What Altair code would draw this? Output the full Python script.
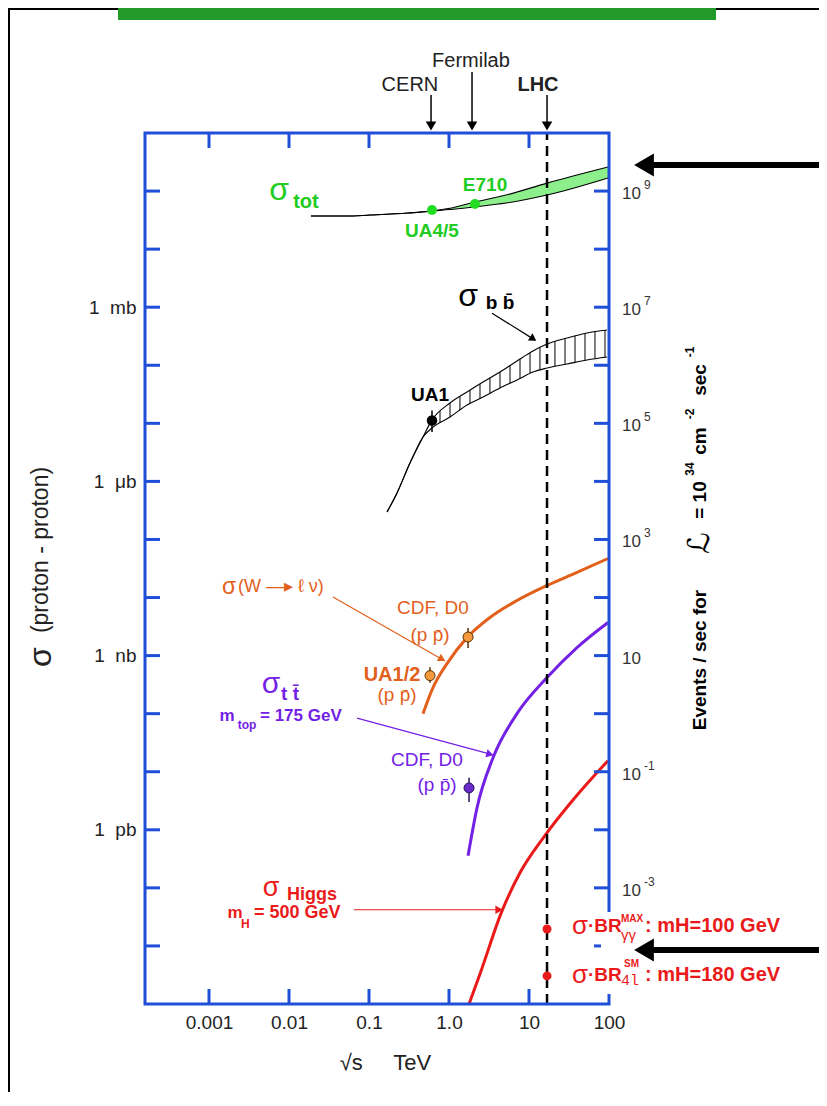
import altair as alt
import pandas as pd

# ---------------- data ----------------
# sigma_tot band (mb) vs sqrt(s) (TeV)
E_tot = [0.0188, 0.0516, 0.103, 0.307, 0.613, 1.03, 2.11, 5.16, 16.8, 97.2]
tot_lo = [37.1, 37.1, 38.6, 41.8, 45.5, 48.0, 53.5, 62.1, 85.3, 168]
tot_hi = [37.1, 37.1, 38.6, 41.8, 45.5, 50.5, 64.6, 85.3, 137, 259]
tot_pts_E = [0.613, 2.11]
tot_pts_s = [47.2, 59.8]

# sigma_bb band
E_bb = [0.168, 0.224, 0.325, 0.473, 0.613, 1.03, 1.68, 2.66, 4.34, 7.08, 11.2, 16.8, 29.9, 53.1, 94.4]
bb_lo = [2.97e-4, 6.32e-4, 2.07e-3, 5.82e-3, 8.34e-3, 0.01285, 0.0207, 0.0284, 0.0406, 0.0558,
         0.0766, 0.0897, 0.1052, 0.1233, 0.1387]
bb_hi = [2.97e-4, 6.32e-4, 2.07e-3, 5.82e-3, 0.01146, 0.0224, 0.0347, 0.0515, 0.0766, 0.1186,
         0.176, 0.232, 0.295, 0.360, 0.405]
hatch_E = [0.772, 1.03, 1.37, 1.83, 2.44, 3.25, 4.34, 5.79, 7.72, 10.3, 13.7,
           21.1, 28.2, 37.6, 50.1, 66.8, 89.1]
ua1_E, ua1_s, ua1_lo, ua1_hi = [0.613], [0.0112], [0.0071], [0.0167]

# W -> l nu
E_W = [0.473, 0.631, 0.944, 1.68, 3.25, 7.08, 16.8, 39.8, 97.2]
s_W = [1.0e-7, 2.81e-7, 7.28e-7, 2.04e-6, 4.52e-6, 8.87e-6, 1.61e-5, 2.70e-5, 4.70e-5]
W_pts_E = [0.579, 1.73]
W_pts_s = [4.52e-7, 2.09e-6]
W_pts_lo = [3.4e-7, 1.35e-6]
W_pts_hi = [6.3e-7, 2.99e-6]

# t tbar
E_tt = [1.73, 2.24, 3.55, 7.08, 16.8, 39.8, 97.2]
s_tt = [3.56e-10, 2.39e-9, 1.74e-8, 1.0e-7, 4.18e-7, 1.37e-6, 3.71e-6]
tt_pts_E, tt_pts_s, tt_pts_lo, tt_pts_hi = [1.78], [5.26e-9], [3.0e-9], [7.9e-9]

# Higgs (500 GeV)
E_H = [1.78, 2.44, 4.60, 7.72, 15.4, 36.5, 97.2]
s_H = [1.0e-12, 3.29e-12, 4.01e-11, 1.82e-10, 7.57e-10, 3.42e-9, 1.55e-8]

# sigma*BR points at LHC
E_LHC = 16.8
BR_s = [1.96e-11, 3.04e-12]

# machines
E_CERN, E_FNAL = 0.596, 1.94

# ticks / labels
xtick_vals = [0.001, 0.01, 0.1, 1, 10]
xlab_vals = [0.001, 0.01, 0.1, 1, 10, 100]
xlab_text = ['0.001', '0.01', '0.1', '1.0', '10', '100']
ytick_vals = [1e2, 1e1, 1, 1e-1, 1e-2, 1e-3, 1e-4, 1e-5, 1e-6, 1e-7, 1e-8, 1e-9, 1e-10, 1e-11]
ylab_vals = [1e-9, 1e-6, 1e-3, 1]
ylab_text = ['1\u00a0\u00a0pb', '1\u00a0\u00a0nb', '1\u00a0\u00a0μb', '1\u00a0\u00a0mb']
rlab_vals = [1e2, 1, 1e-2, 1e-4, 1e-6, 1e-8, 1e-10]
rlab_base = ['10', '10', '10', '10', '10', '10', '10']
rlab_exp = ['9', '7', '5', '3', '', '-1', '-3']

# ---------------- styling ----------------
FONT = "Liberation Sans, Arial, DejaVu Sans"
BLUE = "#1f4fd8"
DARK = "#222222"
GREEN_T = "#22cc22"
GREEN_F = "#8cef8c"
GREEN_P = "#22dd22"
ORANGE = "#e2601c"
ORANGE_P = "#f39a3c"
PURPLE = "#7421e6"
PURPLE_P = "#6a2bc8"
RED = "#ea1a1a"
W, H = 464, 871
NB = "\u00a0"

xs = alt.Scale(type="log", domain=[10 ** -3.8, 100], nice=False)
ys = alt.Scale(type="log", domain=[1e-12, 1e3], nice=False)

x_expr = "[" + ",".join("'%s'" % s for s in xlab_text) + "][round(log(datum.value)/LN10)+3]"
y_expr = "[" + ",".join("'%s'" % s for s in ylab_text) + "][round(log(datum.value)/LN10)/3+3]"

XAXIS = alt.Axis(values=xlab_vals, labelExpr=x_expr, ticks=False, tickSize=0, domain=False,
                 grid=False, labelFont=FONT, labelFontSize=19, labelColor=DARK, labelPadding=9,
                 labelFlush=False, labelOverlap=False, title="√s" + NB * 5 + "TeV", titleFont=FONT,
                 titleFontSize=22, titleFontWeight="normal", titleColor=DARK, titleX=240,
                 titleY=58, titleAlign="center", titleBaseline="middle")
YAXIS = alt.Axis(values=ylab_vals, labelExpr=y_expr, ticks=False, tickSize=0, domain=False,
                 grid=False, labelFont=FONT, labelFontSize=19, labelColor=DARK, labelPadding=9,
                 labelOverlap=False, title=None)


def X(f):
    return alt.X(f, type="quantitative", scale=xs, axis=XAXIS)


def Y(f):
    return alt.Y(f, type="quantitative", scale=ys, axis=YAXIS)


def df(**cols):
    return pd.DataFrame(cols)


ONE = pd.DataFrame({"d": [0]})
layers = []

# ---- sigma_bb hatch (vertical rules) masked by white areas ----
layers.append(alt.Chart(df(E=hatch_E)).mark_rule(color="black", strokeWidth=1).encode(
    x=X("E"), y=alt.datum(2e-3), y2=alt.datum(0.6)))
bbdf = df(E=E_bb, lo=bb_lo, hi=bb_hi)
layers.append(alt.Chart(bbdf).mark_area(color="white", opacity=1, interpolate="monotone").encode(
    x=X("E"), y=Y("hi"), y2=alt.datum(1.0)))
layers.append(alt.Chart(bbdf).mark_area(color="white", opacity=1, interpolate="monotone").encode(
    x=X("E"), y=Y("lo"), y2=alt.datum(1e-3)))
layers.append(alt.Chart(bbdf).mark_line(color="black", strokeWidth=1.1, interpolate="monotone").encode(
    x=X("E"), y=Y("hi")))
layers.append(alt.Chart(bbdf).mark_line(color="black", strokeWidth=1.1, interpolate="monotone").encode(
    x=X("E"), y=Y("lo")))

# ---- sigma_tot band ----
totdf = df(E=E_tot, lo=tot_lo, hi=tot_hi)
layers.append(alt.Chart(totdf).mark_area(color=GREEN_F, opacity=1, interpolate="monotone").encode(
    x=X("E"), y=Y("lo"), y2="hi"))
layers.append(alt.Chart(totdf).mark_line(color="black", strokeWidth=1.1, interpolate="monotone").encode(
    x=X("E"), y=Y("lo")))
layers.append(alt.Chart(totdf).mark_line(color="black", strokeWidth=1.1, interpolate="monotone").encode(
    x=X("E"), y=Y("hi")))

# ---- curves ----
layers.append(alt.Chart(df(E=E_W, s=s_W)).mark_line(color=ORANGE, strokeWidth=3, interpolate="monotone").encode(
    x=X("E"), y=Y("s")))
layers.append(alt.Chart(df(E=E_tt, s=s_tt)).mark_line(color=PURPLE, strokeWidth=3, interpolate="monotone").encode(
    x=X("E"), y=Y("s")))
layers.append(alt.Chart(df(E=E_H, s=s_H)).mark_line(color=RED, strokeWidth=3, interpolate="monotone").encode(
    x=X("E"), y=Y("s")))

# ---- LHC dashed line ----
layers.append(alt.Chart(df(E=[E_LHC])).mark_rule(color="black", strokeWidth=2.5, strokeDash=[10, 6]).encode(
    x=X("E"), y=alt.datum(1e-12), y2=alt.datum(1e3)))

# ---- error bars & points ----
errdf = df(E=ua1_E + W_pts_E + tt_pts_E, lo=ua1_lo + W_pts_lo + tt_pts_lo, hi=ua1_hi + W_pts_hi + tt_pts_hi,
           c=["black", "#5a3000", "#5a3000", "#2a1060"])
layers.append(alt.Chart(errdf).mark_rule(strokeWidth=1.5).encode(
    x=X("E"), y=Y("lo"), y2="hi", color=alt.Color("c:N", scale=None)))
layers.append(alt.Chart(df(E=tot_pts_E, s=tot_pts_s)).mark_circle(color=GREEN_P, size=100, opacity=1).encode(
    x=X("E"), y=Y("s")))
layers.append(alt.Chart(df(E=ua1_E, s=ua1_s)).mark_point(shape="circle", filled=True, color="black", size=110, opacity=1).encode(
    x=X("E"), y=Y("s")))
layers.append(alt.Chart(df(E=W_pts_E, s=W_pts_s)).mark_point(shape="circle", filled=True, fill=ORANGE_P, stroke="#5a3000",
                                                              strokeWidth=1, size=100, opacity=1).encode(x=X("E"), y=Y("s")))
layers.append(alt.Chart(df(E=tt_pts_E, s=tt_pts_s)).mark_point(shape="circle", filled=True, fill=PURPLE_P, stroke="#2a1060",
                                                                strokeWidth=1, size=100, opacity=1).encode(x=X("E"), y=Y("s")))
layers.append(alt.Chart(df(E=[E_LHC, E_LHC], s=BR_s)).mark_circle(color=RED, size=80, opacity=1).encode(
    x=X("E"), y=Y("s")))


# ---- annotation arrows (data coordinates) ----
def arrow(E0, s0, E1, s1, Eh, sh, shape, angle, color, width=1.2, head=70):
    line = alt.Chart(df(E=[E0], s=[s0], E2=[E1], s2=[s1])).mark_rule(color=color, strokeWidth=width).encode(
        x=X("E"), y=Y("s"), x2="E2", y2="s2")
    hd = alt.Chart(df(E=[Eh], s=[sh])).mark_point(shape=shape, filled=True, color=color, size=head,
                                                  angle=angle, opacity=1).encode(x=X("E"), y=Y("s"))
    return [line, hd]


layers += arrow(3.45, 0.79, 11.9, 0.271, 11.3, 0.285, "triangle-right", 33, "black")
layers += arrow(0.0355, 1.02e-5, 0.891, 8.05e-7, 0.818, 8.7e-7, "triangle-right", 30, ORANGE)
layers += arrow(0.0708, 8.4e-8, 3.65, 1.93e-8, 3.25, 2.0e-8, "triangle-right", 15, PURPLE)
layers += arrow(0.0649, 4.2e-11, 4.73, 4.2e-11, 4.22, 4.2e-11, "triangle-right", 0, RED)
for e0, s0 in [(E_CERN, 4510), (E_FNAL, 11220), (E_LHC, 4510)]:
    layers += arrow(e0, s0, e0, 1319, e0, 1319, "triangle-down", 0, "black", width=1.5, head=110)


# ---- text annotations ----
def texts(rows, weight="normal", align="center", font=FONT):
    d = pd.DataFrame(rows, columns=["E", "s", "t", "c", "z"])
    return alt.Chart(d).mark_text(font=font, fontWeight=weight, align=align, baseline="middle").encode(
        x=X("E"), y=Y("s"), text="t:N", color=alt.Color("c:N", scale=None), size=alt.Size("z:Q", scale=None))


normal_center = [
    (0.0075, 104, "σ", GREEN_T, 32),
    (1.73, 1.56, "σ", "black", 32),
    (0.00178, 1.51e-5, "σ", ORANGE, 23),
    (0.631, 6.52e-6, "CDF, D0", ORANGE, 19),
    (0.579, 2.23e-6, "(p p̄)", ORANGE, 19),
    (0.224, 2.07e-7, "(p p̄)", ORANGE, 19),
    (0.00596, 3.25e-7, "σ", PURPLE, 30),
    (0.531, 1.6e-8, "CDF, D0", PURPLE, 19),
    (0.708, 5.9e-9, "(p p̄)", PURPLE, 19),
    (0.00596, 1.0e-10, "σ", RED, 27),
    (43.4, 2.2e-11, "σ", RED, 26),
    (43.4, 3.2e-12, "σ", RED, 26),
    (0.325, 6700, "CERN", DARK, 20),
    (1.88, 17380, "Fermilab", DARK, 20),
]
bold_center = [
    (0.0163, 65, "tot", GREEN_T, 20),
    (2.82, 128, "E710", GREEN_T, 19),
    (0.613, 20.6, "UA4/5", GREEN_T, 19),
    (4.34, 1.18, "b b̄", "black", 19),
    (0.579, 0.0303, "UA1", "black", 19),
    (0.194, 4.57e-7, "UA1/2", ORANGE, 20),
    (0.0103, 2.18e-7, "t t̄", PURPLE, 19),
    (0.00168, 9.1e-8, "m", PURPLE, 17),
    (0.00299, 6.4e-8, "top", PURPLE, 12),
    (0.0194, 7.6e-11, "Higgs", RED, 18),
    (0.00211, 3.7e-11, "m", RED, 17),
    (0.00285, 2.4e-11, "H", RED, 12),
    (12.96, 6700, "LHC", DARK, 20),
]
bold_left = [
    (0.00434, 9.1e-8, "= 175 GeV", PURPLE, 17),
    (0.00365, 3.7e-11, "= 500 GeV", RED, 18),
    (54.6, 2.2e-11, "·BR", RED, 19),
    (141, 2.9e-11, "MAX", RED, 10),
    (282, 2.2e-11, ": mH=100 GeV", RED, 20),
    (54.6, 3.2e-12, "·BR", RED, 19),
    (154, 4.9e-12, "SM", RED, 10),
    (282, 3.2e-12, ": mH=180 GeV", RED, 20),
]
normal_left = [
    (0.0023, 1.51e-5, "(W —▸ ℓ ν)", ORANGE, 18),
    (141, 1.55e-11, "γγ", RED, 15),
]
mono_left = [(141, 2.6e-12, "4l", RED, 15)]

# ---- frame ticks ----
layers.append(alt.Chart(df(v=ytick_vals)).mark_rule(color=BLUE, strokeWidth=3).encode(
    y=Y("v"), x=alt.value(0), x2=alt.value(15)))
layers.append(alt.Chart(df(v=ytick_vals)).mark_rule(color=BLUE, strokeWidth=3).encode(
    y=Y("v"), x=alt.value(W - 15), x2=alt.value(W)))
layers.append(alt.Chart(df(v=xtick_vals)).mark_rule(color=BLUE, strokeWidth=3).encode(
    x=X("v"), y=alt.value(0), y2=alt.value(15)))
layers.append(alt.Chart(df(v=xtick_vals)).mark_rule(color=BLUE, strokeWidth=3).encode(
    x=X("v"), y=alt.value(H - 15), y2=alt.value(H)))
# frame
layers.append(alt.Chart(ONE).mark_rect(filled=False, color=BLUE, strokeWidth=3).encode(
    x=alt.value(0), x2=alt.value(W), y=alt.value(0), y2=alt.value(H)))
# white box behind the sigma*BR labels
layers.append(alt.Chart(ONE).mark_rect(color="white", opacity=1).encode(
    x=alt.value(456), x2=alt.value(660), y=alt.value(779), y2=alt.value(861)))

layers.append(texts(normal_center))
layers.append(texts(bold_center, weight="bold"))
layers.append(texts(bold_left, weight="bold", align="left"))
layers.append(texts(normal_left, align="left"))
layers.append(texts(mono_left, align="left", font="Liberation Mono, DejaVu Sans Mono"))

# right axis labels (events / sec)
rdf = df(v=rlab_vals, b=rlab_base, e=rlab_exp)
layers.append(alt.Chart(rdf).mark_text(font=FONT, fontSize=17, color="#333333", align="left",
                                       baseline="middle", dy=3).encode(
    y=Y("v"), x=alt.value(W + 13), text="b:N"))
layers.append(alt.Chart(rdf).mark_text(font=FONT, fontSize=12, color="#333333", align="left",
                                       baseline="middle", dy=-6).encode(
    y=Y("v"), x=alt.value(W + 35), text="e:N"))

# right axis title, built from pieces (plot-pixel positions)
title_parts = [
    (555, 527, "Events / sec for", 19, "bold"),
    (555, 410, "ℒ", 30, "normal"),
    (555, 367, "= 10", 19, "bold"),
    (545, 336, "34", 12, "bold"),
    (555, 308, "cm", 19, "bold"),
    (545, 281, "-2", 12, "bold"),
    (555, 247, "sec", 19, "bold"),
    (545, 219, "-1", 12, "bold"),
]
for tx, ty, tt, tz, tw in title_parts:
    layers.append(alt.Chart(ONE).mark_text(font=FONT, fontSize=tz, fontWeight=tw, color="black",
                                           angle=270, align="center", baseline="middle").encode(
        x=alt.value(tx), y=alt.value(ty), text=alt.value(tt)))

# left axis title
layers.append(alt.Chart(ONE).mark_text(font=FONT, fontSize=23, color=DARK, angle=270, align="center",
                                       baseline="middle").encode(
    x=alt.value(-104), y=alt.value(417), text=alt.value("(proton - proton)")))
layers.append(alt.Chart(ONE).mark_text(font=FONT, fontSize=32, color=DARK, angle=270, align="center",
                                       baseline="middle").encode(
    x=alt.value(-104), y=alt.value(524), text=alt.value("σ")))

# page decorations: green header bar, black frame lines, big arrows on the right
layers.append(alt.Chart(ONE).mark_rect(color="#229a29", opacity=1).encode(
    x=alt.value(-27), x2=alt.value(571), y=alt.value(-125), y2=alt.value(-113)))
layers.append(alt.Chart(ONE).mark_rule(color="black", strokeWidth=2).encode(
    x=alt.value(-137), x2=alt.value(-27), y=alt.value(-124)))
layers.append(alt.Chart(ONE).mark_rule(color="black", strokeWidth=2).encode(
    x=alt.value(571), x2=alt.value(674), y=alt.value(-124)))
layers.append(alt.Chart(ONE).mark_rule(color="black", strokeWidth=2).encode(
    x=alt.value(-136), y=alt.value(-125), y2=alt.value(959)))
for yy in [32, 817]:
    layers.append(alt.Chart(ONE).mark_rule(color="black", strokeWidth=6).encode(
        x=alt.value(505), x2=alt.value(674), y=alt.value(yy)))
    layers.append(alt.Chart(ONE).mark_point(shape="triangle-left", filled=True, color="black", size=520,
                                            opacity=1).encode(x=alt.value(499), y=alt.value(yy)))

chart = alt.layer(*layers).properties(
    width=W, height=H,
    padding={"left": 137, "top": 125, "right": 210, "bottom": 88},
    autosize=alt.AutoSizeParams(type="none"),
    background="white",
).configure_view(strokeWidth=0)

chart.save("out.html", embed_options={"renderer": "svg", "actions": False})
